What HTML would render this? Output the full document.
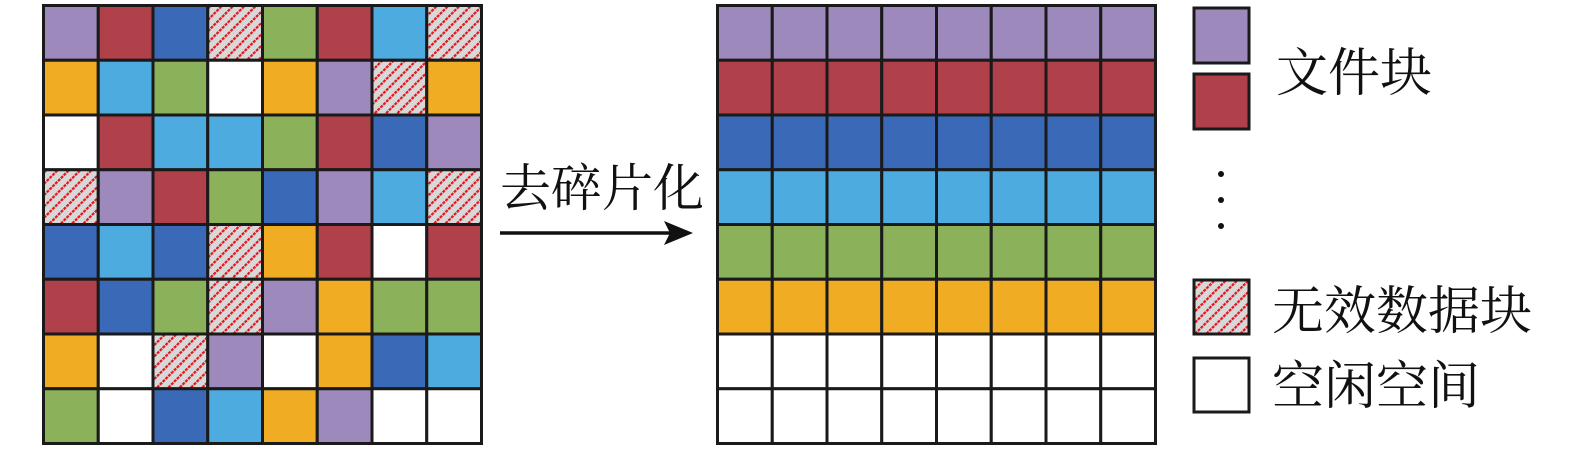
<!DOCTYPE html>
<html><head><meta charset="utf-8"><style>
html,body{margin:0;padding:0;background:#fff;}
text{font-family:"Liberation Serif","Noto Serif CJK SC",serif;fill:#111;}
</style></head><body>
<svg width="1575" height="453" viewBox="0 0 1575 453" xmlns="http://www.w3.org/2000/svg">
<defs>
<pattern id="h" patternUnits="userSpaceOnUse" width="8" height="8" patternTransform="rotate(45)">
<rect width="8" height="8" fill="#d8d8d8"/>
<line x1="1" y1="0" x2="1" y2="8" stroke="#e3141e" stroke-width="2.4" stroke-dasharray="3,1"/>
</pattern>
</defs>
<g id="L" stroke="#1a1a1a" stroke-width="3"></g>
<g id="R" stroke="#1a1a1a" stroke-width="3"></g>
<text x="500" y="206" font-size="51">去碎片化</text>
<line x1="500" y1="233" x2="672" y2="233" stroke="#111" stroke-width="3.5"/>
<polygon points="693,233 664,221 670,233 664,245" fill="#111"/>
<rect x="1194" y="8" width="55" height="55" fill="#9d89bb" stroke="#1a1a1a" stroke-width="3"/>
<rect x="1194" y="74" width="55" height="55" fill="#b0404a" stroke="#1a1a1a" stroke-width="3"/>
<circle cx="1221" cy="174" r="3" fill="#111"/>
<circle cx="1221" cy="200" r="3" fill="#111"/>
<circle cx="1221" cy="226" r="3" fill="#111"/>
<rect x="1194" y="280" width="55" height="54" fill="url(#h)" stroke="#1a1a1a" stroke-width="3"/>
<rect x="1194" y="358" width="55" height="54" fill="#fff" stroke="#1a1a1a" stroke-width="3"/>
<text x="1276" y="91" font-size="52">文件块</text>
<text x="1272" y="329" font-size="52">无效数据块</text>
<text x="1272" y="404" font-size="52">空闲空间</text>
</svg>
<script>
var C={p:"#9d89bb",r:"#b0404a",b:"#3a6ab7",l:"#4eabe0",g:"#8bb25a",o:"#f0ac23",w:"#fff",h:"url(#h)"};
var Lg=["prbhgrlh","olgwopho","wrllgrbp","hprgbplh","blbhorwr","rbghpogg","owhpwobl","gwblopww"];
var Rg=["pppppppp","rrrrrrrr","bbbbbbbb","llllllll","gggggggg","oooooooo","wwwwwwww","wwwwwwww"];
function draw(id,g,x0,y0){var el=document.getElementById(id),s=54.75,h="";
for(var r=0;r<8;r++)for(var c=0;c<8;c++){h+='<rect x="'+(x0+c*s)+'" y="'+(y0+r*s)+'" width="'+s+'" height="'+s+'" fill="'+C[g[r][c]]+'"/>';}
el.innerHTML=h;}
draw("L",Lg,43.5,5.5);draw("R",Rg,717.5,5.5);
</script>
</body></html>
